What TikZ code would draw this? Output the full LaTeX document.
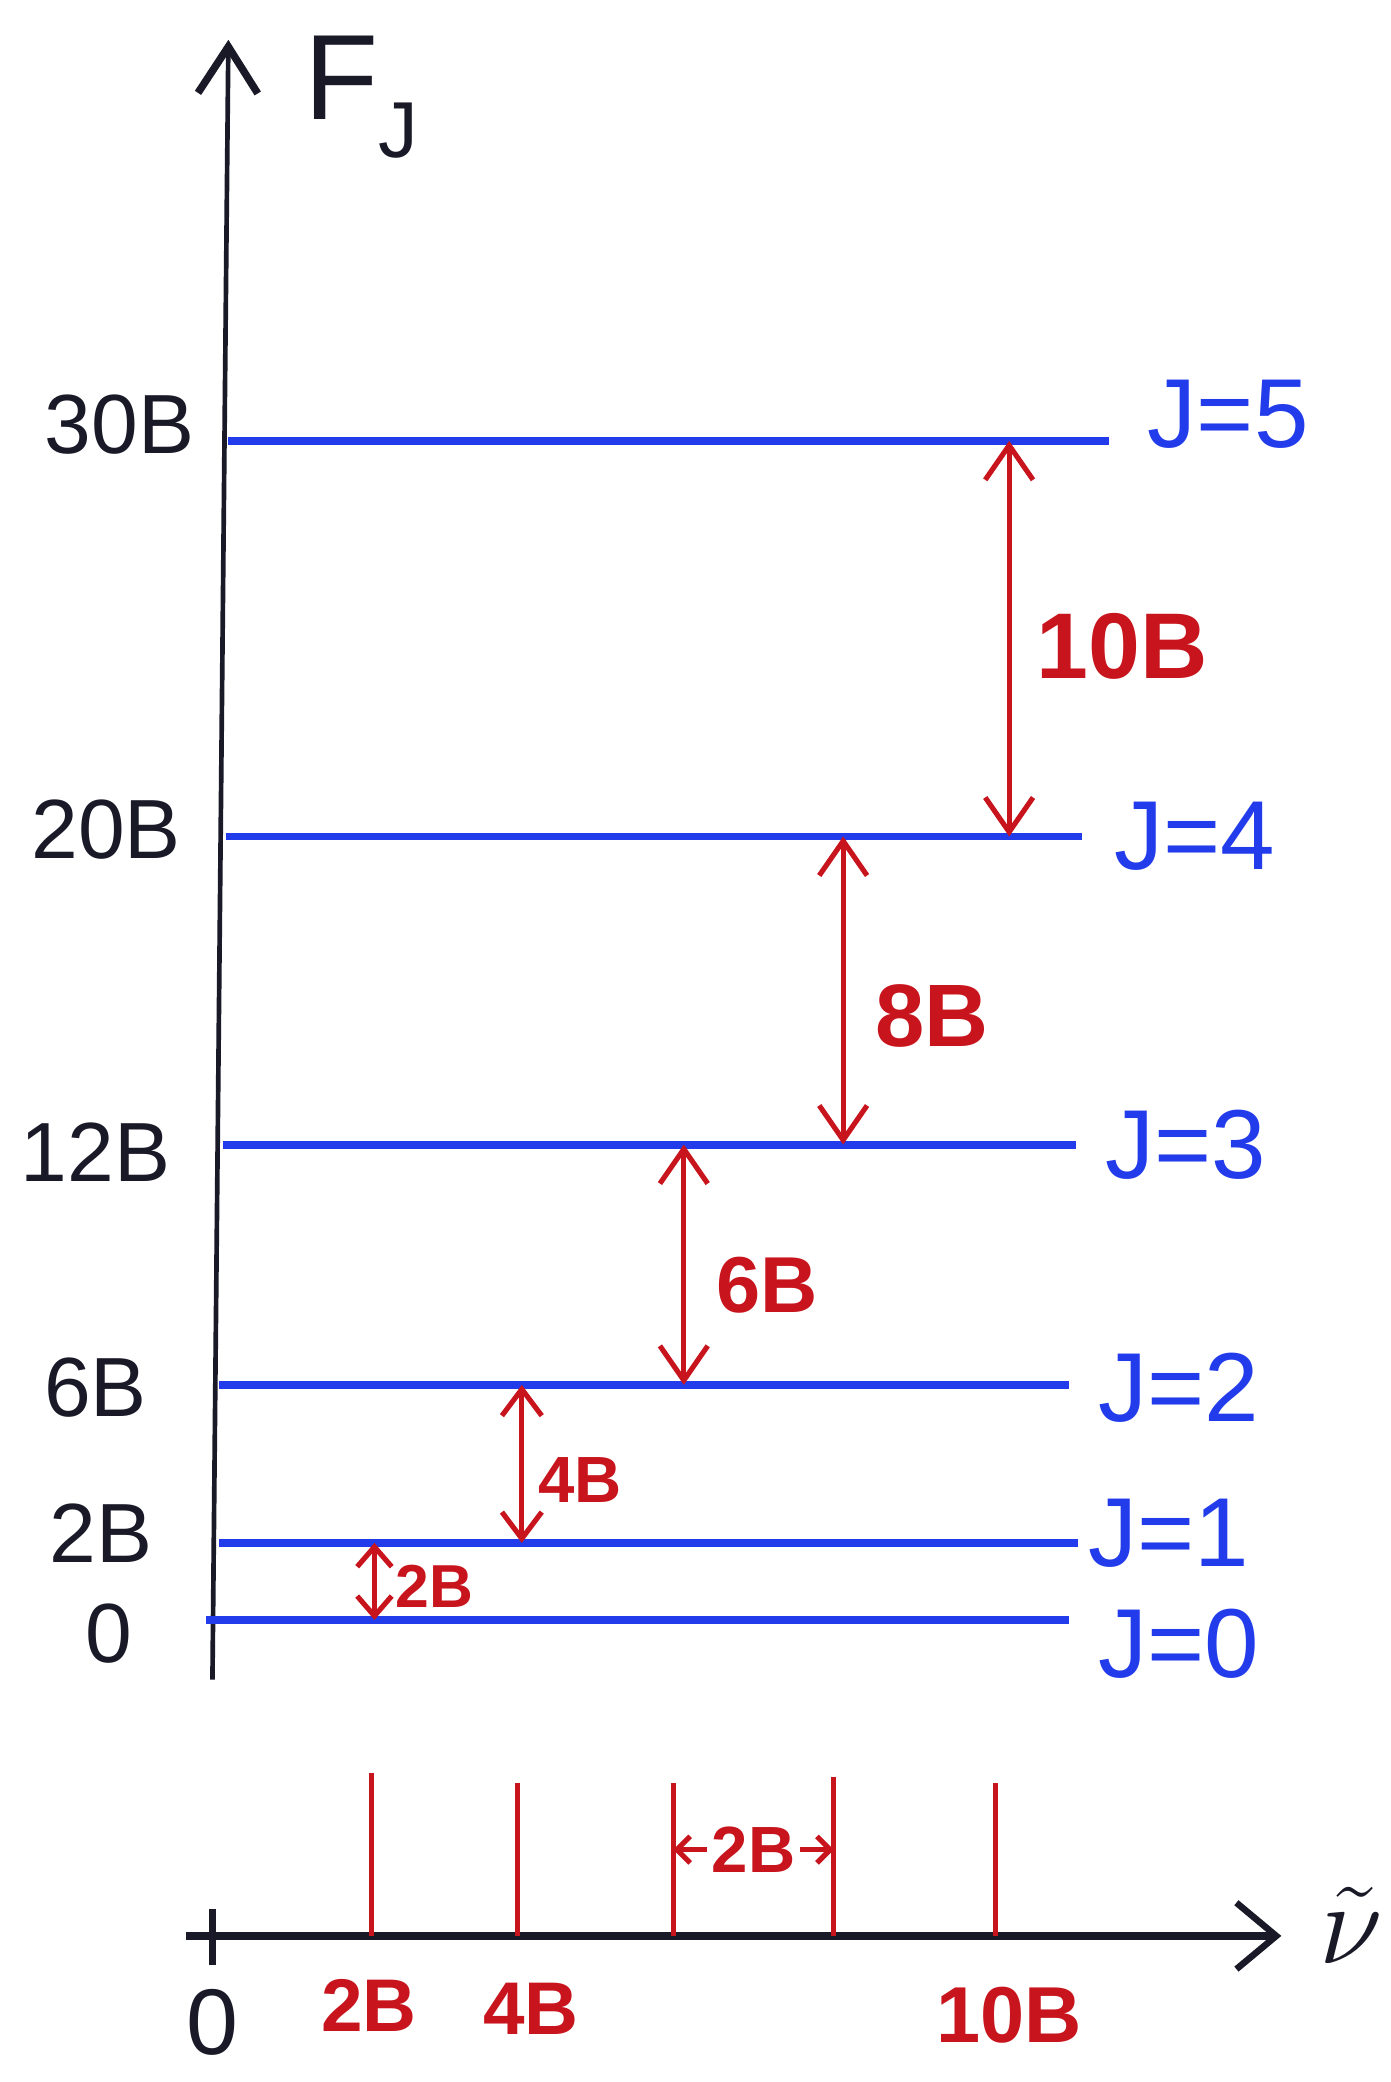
\documentclass[tikz,border=0pt]{standalone}
\usepackage{amsmath}
\usepackage{fontspec}
\setmainfont{Liberation Sans}
\usepackage{xcolor}
\usetikzlibrary{positioning,arrows.meta}

\definecolor{ink}{RGB}{25,25,40}
\definecolor{lvlblue}{RGB}{35,60,235}
\definecolor{gapred}{RGB}{200,20,28}

\begin{document}
\begin{tikzpicture}[
          x=1cm, y=1cm,
          axis/.style={line width=1pt, ink},
          level/.style={line width=1.7pt, lvlblue},
          gap/.style={line width=1.1pt, gapred,
            {Straight Barb[length=2.6mm,width=3.6mm]}-{Straight Barb[length=2.6mm,width=3.6mm]}},
          peak/.style={line width=1.1pt, gapred},
          elbl/.style={font=\fontsize{18}{20}\selectfont, text=ink},
          jlbl/.style={font=\fontsize{21}{23}\selectfont, text=lvlblue},
          glbl/.style={font=\bfseries\fontsize{19}{21}\selectfont, text=gapred}
      ]
        \useasboundingbox (0,0) rectangle (10.47,15.68);
        % energy axis
        \coordinate (ebot) at (1.60,3.03);
        \coordinate (etop) at (1.72,15.38);
        \draw[axis, -{Straight Barb[length=3.5mm,width=4.5mm,line width=1.6pt]}] (ebot) -- (etop);
        \node[text=ink, font=\fontsize{26}{28}\selectfont] (fj) at (2.72,14.95) {F\raisebox{-0.6ex}{\fontsize{17}{17}\selectfont J}};
        % levels
        \coordinate (j5l) at (1.72,12.36); \coordinate (j5r) at (8.35,12.36);
        \coordinate (j4l) at (1.70,9.38);  \coordinate (j4r) at (8.15,9.38);
        \coordinate (j3l) at (1.68,7.06);  \coordinate (j3r) at (8.10,7.06);
        \coordinate (j2l) at (1.65,5.25);  \coordinate (j2r) at (8.05,5.25);
        \coordinate (j1l) at (1.65,4.06);  \coordinate (j1r) at (8.12,4.06);
        \coordinate (j0l) at (1.55,3.48);  \coordinate (j0r) at (8.05,3.48);
        \draw[level] (j5l) -- (j5r);
        \draw[level] (j4l) -- (j4r);
        \draw[level] (j3l) -- (j3r);
        \draw[level] (j2l) -- (j2r);
        \draw[level] (j1l) -- (j1r);
        \draw[level] (j0l) -- (j0r);
        \node[jlbl] (t5) at (9.25,12.56) {J=5};
        \node[jlbl] (t4) at (9.00,9.38) {J=4};
        \node[jlbl] (t3) at (8.93,7.06) {J=3};
        \node[jlbl] (t2) at (8.88,5.23) {J=2};
        \node[jlbl] (t1) at (8.80,4.13) {J=1};
        \node[jlbl] (t0) at (8.88,3.30) {J=0};
        \node[elbl] (e5) at (0.90,12.48) {30B};
        \node[elbl] (e4) at (0.80,9.43) {20B};
        \node[elbl] (e3) at (0.72,7.00) {12B};
        \node[elbl] (e2) at (0.72,5.23) {6B};
        \node[elbl] (e1) at (0.76,4.13) {2B};
        \node[elbl] (e0) at (0.82,3.38) {0};
        % gaps between levels
        \coordinate (g5a) at (7.60,12.36); \coordinate (g5b) at (7.60,9.38);
        \coordinate (g4a) at (6.35,9.38);  \coordinate (g4b) at (6.35,7.06);
        \coordinate (g3a) at (5.15,7.06);  \coordinate (g3b) at (5.15,5.25);
        \coordinate (g2a) at (3.93,5.25);  \coordinate (g2b) at (3.93,4.06);
        \coordinate (g1a) at (2.82,4.06);  \coordinate (g1b) at (2.82,3.48);
        \draw[gap] (g5a) -- (g5b);
        \draw[gap] (g4a) -- (g4b);
        \draw[gap] (g3a) -- (g3b);
        \draw[gap, {Straight Barb[length=2mm,width=3mm]}-{Straight Barb[length=2mm,width=3mm]}] (g2a) -- (g2b);
        \draw[gap, {Straight Barb[length=1.5mm,width=2.6mm]}-{Straight Barb[length=1.5mm,width=2.6mm]}] (g1a) -- (g1b);
        \node[glbl, font=\bfseries\fontsize{20}{22}\selectfont] (d5) at (8.45,10.81) {10B};
        \node[glbl] (d4) at (7.02,8.03) {8B};
        \node[glbl, font=\bfseries\fontsize{17}{19}\selectfont] (d3) at (5.78,6.00) {6B};
        \node[glbl, font=\bfseries\fontsize{14}{16}\selectfont] (d2) at (4.37,4.53) {4B};
        \node[glbl, font=\bfseries\fontsize{13}{15}\selectfont] (d1) at (3.27,3.73) {2B};
        % spectrum
        \coordinate (nu0) at (1.40,1.10);
        \coordinate (nu1) at (9.65,1.10);
        \draw[axis, line width=1.6pt, -{Straight Barb[length=3mm,width=5mm,line width=1.4pt]}] (nu0) -- (nu1);
        \coordinate (tk0) at (1.60,1.30);
        \coordinate (tk1) at (1.60,0.88);
        \draw[axis, line width=1.4pt] (tk0) -- (tk1);
        \node[text=ink, font=\fontsize{26}{28}\selectfont] (nu) at (10.18,1.18) {$\tilde{\nu}$};
        \node[elbl, font=\fontsize{20}{22}\selectfont] (z) at (1.60,0.45) {0};
        \coordinate (s1) at (2.80,2.33);
        \coordinate (s2) at (3.90,2.25);
        \coordinate (s3) at (5.07,2.25);
        \coordinate (s4) at (6.28,2.30);
        \coordinate (s5) at (7.50,2.25);
        \draw[peak] (s1) -- (s1 |- nu0);
        \draw[peak] (s2) -- (s2 |- nu0);
        \draw[peak] (s3) -- (s3 |- nu0);
        \draw[peak] (s4) -- (s4 |- nu0);
        \draw[peak] (s5) -- (s5 |- nu0);
        \coordinate (sp3) at (5.07,1.75);
        \coordinate (sp4) at (6.28,1.75);
        \draw[gap, {Straight Barb[length=1mm,width=2mm]}-{Straight Barb[length=1mm,width=2mm]}] (sp3) -- (sp4)
          node[midway, glbl, fill=white, inner sep=1pt, font=\bfseries\fontsize{14}{16}\selectfont] (sp) {2B};
        \node[glbl, font=\bfseries\fontsize{16}{18}\selectfont] (n1) at (2.78,0.58) {2B};
        \node[glbl, font=\bfseries\fontsize{16}{18}\selectfont] (n2) at (4.00,0.55) {4B};
        \node[glbl, font=\bfseries\fontsize{17}{19}\selectfont] (n5) at (7.60,0.50) {10B};
      \end{tikzpicture}
\end{document}
